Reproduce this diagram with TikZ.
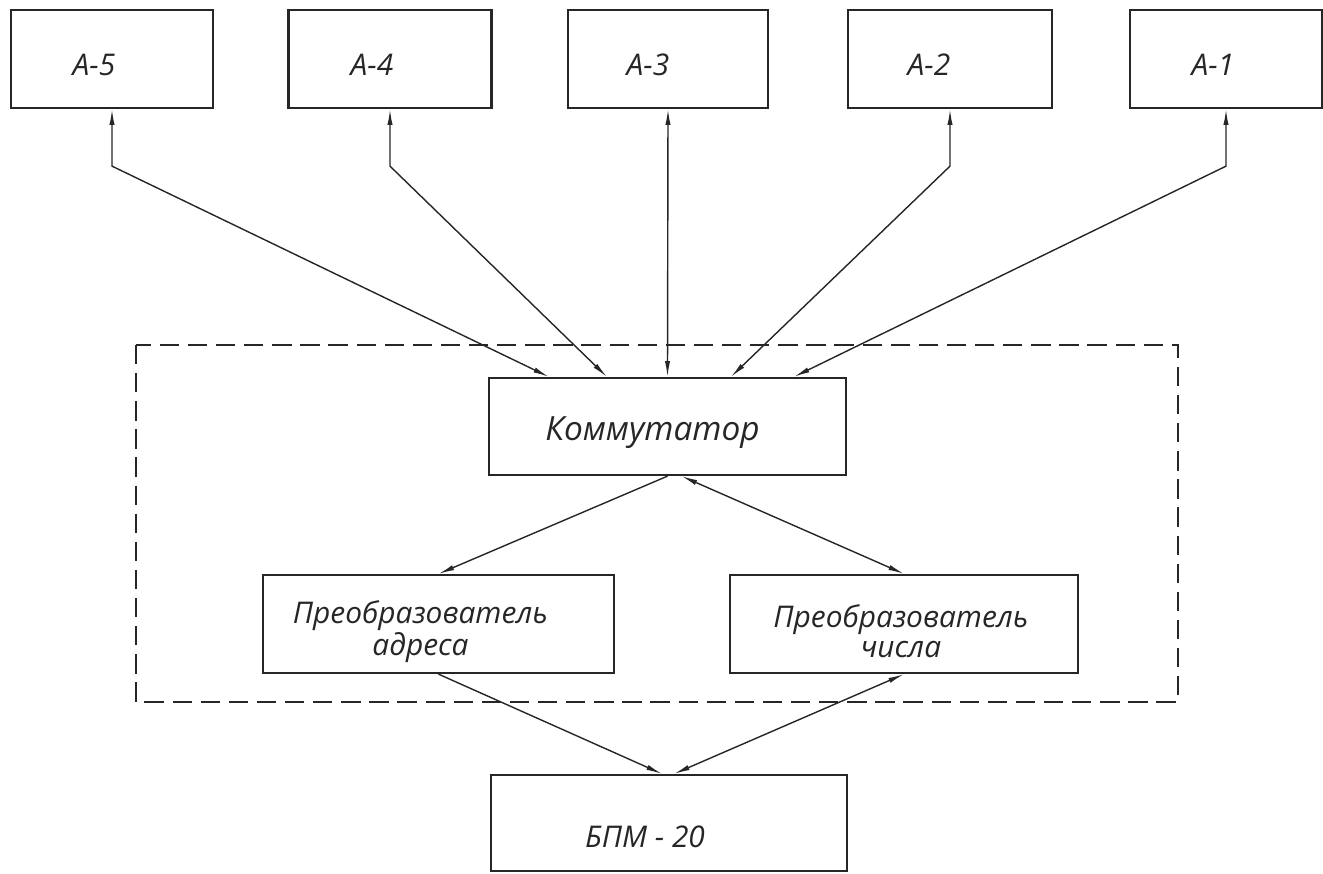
\documentclass[tikz,border=0pt]{standalone}
\usepackage{fontspec}
\setmainfont{Open Sans}
\usetikzlibrary{arrows.meta,calc}
\definecolor{ink}{HTML}{262626}

\begin{document}
\begin{tikzpicture}[x=0.02cm,y=-0.02cm,
    unit/.style={draw=ink,line width=1.3pt,inner sep=0pt,minimum height=1.96cm},
    txt/.style={text=ink,align=center,font=\itshape\fontsize{17}{17}\selectfont},
    link/.style={draw=ink,line width=0.8pt},
    oneway/.style={-{Latex[length=9pt,width=3pt]}},
    twoway/.style={{Latex[length=9pt,width=3pt]}-{Latex[length=9pt,width=3pt]}},
    frame/.style={draw=ink,line width=0.9pt,dash pattern=on 11pt off 5pt}]
    \useasboundingbox (0,0) rectangle (1323,873);

    % upper units
    \node[unit,minimum width=4.04cm,label={[txt,xshift=-0.36cm,yshift=-0.12cm]center:А-5}] (a5) at (112,59) {};
    \node[unit,minimum width=4.06cm,label={[txt,xshift=-0.36cm,yshift=-0.12cm]center:А-4}] (a4) at (390,59) {};
    \node[unit,minimum width=4.00cm,label={[txt,xshift=-0.40cm,yshift=-0.12cm]center:А-3}] (a3) at (668,59) {};
    \node[unit,minimum width=4.08cm,label={[txt,xshift=-0.42cm,yshift=-0.12cm]center:А-2}] (a2) at (950,59) {};
    \node[unit,minimum width=3.84cm,label={[txt,xshift=-0.26cm,yshift=-0.12cm]center:А-1}] (a1) at (1226,59) {};

    % block inside the dashed frame
    \draw[frame] (136,345) rectangle (1178,702);
    \node[unit,minimum width=7.14cm,minimum height=1.94cm,
        label={[txt,font=\itshape\fontsize{19}{19}\selectfont,xshift=-0.30cm,yshift=-0.12cm]center:Коммутатор}]
        (komm) at (667.5,426.5) {};
    \node[unit,minimum width=7.02cm,label={[txt,xshift=-0.36cm,yshift=-0.16cm]center:Преобразователь\\адреса}]
        (padr) at (438.5,624) {};
    \node[unit,minimum width=6.96cm,label={[txt,xshift=-0.06cm,yshift=-0.14cm]center:Преобразователь\\числа}]
        (pnum) at (904,624) {};
    \node[unit,minimum width=7.12cm,minimum height=1.92cm,label={[txt,xshift=-0.48cm,yshift=-0.28cm]center:БПМ - 20}]
        (bpm) at (669,823) {};

    \coordinate (b5) at ($(a5.south)+(0,57)$);
    \coordinate (b4) at ($(a4.south)+(0,57)$);
    \coordinate (b2) at ($(a2.south)+(0,57)$);
    \coordinate (b1) at ($(a1.south)+(0,57)$);
    \coordinate (k5) at ($(komm.north west)+(61,0)$);
    \coordinate (k4) at ($(komm.north west)+(119,0)$);
    \coordinate (k2) at ($(komm.north west)+(243,0)$);
    \coordinate (k1) at ($(komm.north west)+(306,0)$);
    \draw[link,twoway] (a5.south) -- (b5) -- (k5);
    \draw[link,twoway] (a4.south) -- (b4) -- (k4);
    \draw[link,twoway] (a3.south) -- (komm.north);
    \draw[link,twoway] (a2.south) -- (b2) -- (k2);
    \draw[link,twoway] (a1.south) -- (b1) -- (k1);

    \coordinate (ks) at ($(komm.south)+(14,0)$);
    \coordinate (pl) at ($(bpm.north)+(-7,0)$);
    \coordinate (pr) at ($(bpm.north)+(5,0)$);
    \draw[link,oneway] (komm.south) -- (padr.north);
    \draw[link,twoway] (ks) -- (pnum.north);
    \draw[link,oneway] (padr.south) -- (pl);
    \draw[link,twoway] (pnum.south) -- (pr);
\end{tikzpicture}
\end{document}
